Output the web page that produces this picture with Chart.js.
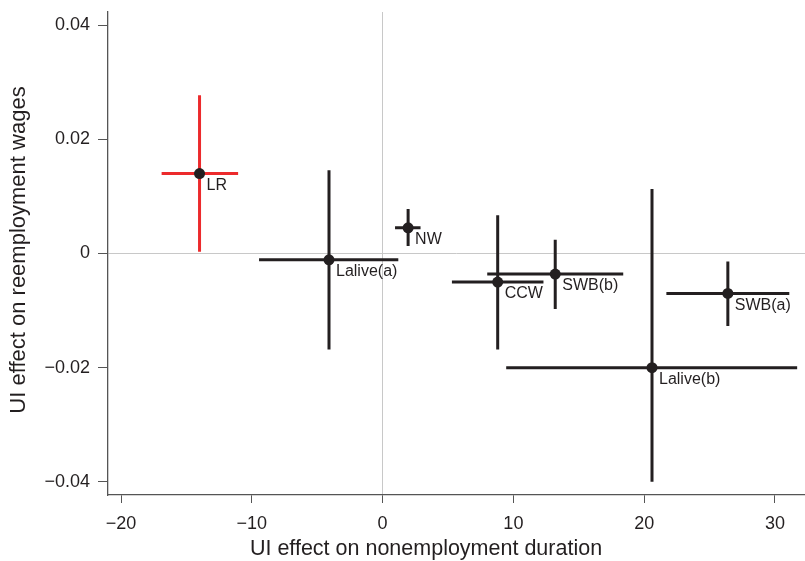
<!DOCTYPE html>
<html>
<head>
<meta charset="utf-8">
<script src="https://cdn.jsdelivr.net/npm/chart.js@4"></script>
<style>
  html, body { margin: 0; padding: 0; background: #fff; overflow: hidden; }
  #wrap { width: 805px; height: 561px; }
  canvas { display: block; }
</style>
</head>
<body>
<div id="wrap"><canvas id="chart" width="805" height="561"></canvas></div>
<script>
// study estimates
const studies    = ['LR', 'Lalive(a)', 'NW', 'CCW', 'SWB(b)', 'SWB(a)', 'Lalive(b)'];
const durEffect  = [-14.0, -4.1, 1.95, 8.8, 13.2, 26.4, 20.6];
const durLow     = [-16.9, -9.45, 0.95, 5.3, 8.0, 21.7, 9.45];
const durHigh    = [-11.05, 1.2, 2.9, 12.3, 18.4, 31.1, 31.7];
const wageEffect = [0.0140, -0.0011, 0.0045, -0.0050, -0.0036, -0.0070, -0.0200];
const wageLow    = [0.0003, -0.0168, 0.0013, -0.0168, -0.0097, -0.0127, -0.0400];
const wageHigh   = [0.0277, 0.0146, 0.0078, 0.0067, 0.0024, -0.0014, 0.0113];
const barColors  = ['#ec2a2c', '#231f20', '#231f20', '#231f20', '#231f20', '#231f20', '#231f20'];

const xTitle = 'UI effect on nonemployment duration';
const yTitle = 'UI effect on reemployment wages';

const FONT = '"Liberation Sans", Arial, Helvetica, sans-serif';
const INK  = '#231f20';

const minus = v => (v < 0 ? '\u2212' : '');

// error bars, labels and axis titles
const errorBars = {
  id: 'errorBars',
  beforeDatasetsDraw(chart) {
    const { ctx, scales: { x, y } } = chart;
    ctx.save();
    ctx.lineWidth = 3;
    ctx.lineCap = 'butt';
    studies.forEach((s, i) => {
      const px = x.getPixelForValue(durEffect[i]);
      const py = y.getPixelForValue(wageEffect[i]);
      ctx.strokeStyle = barColors[i];
      ctx.beginPath();
      ctx.moveTo(x.getPixelForValue(durLow[i]), py);
      ctx.lineTo(x.getPixelForValue(durHigh[i]), py);
      ctx.moveTo(px, y.getPixelForValue(wageHigh[i]));
      ctx.lineTo(px, y.getPixelForValue(wageLow[i]));
      ctx.stroke();
    });
    ctx.restore();
  },
  afterDatasetsDraw(chart) {
    const { ctx, scales: { x, y } } = chart;
    ctx.save();
    ctx.fillStyle = INK;
    ctx.font = '16px ' + FONT;
    ctx.textAlign = 'left';
    ctx.textBaseline = 'top';
    studies.forEach((s, i) => {
      ctx.fillText(s, x.getPixelForValue(durEffect[i]) + 7, y.getPixelForValue(wageEffect[i]) + 4);
    });
    ctx.restore();
  },
  afterDraw(chart) {
    const { ctx } = chart;
    ctx.save();
    ctx.fillStyle = INK;
    ctx.textAlign = 'center';
    ctx.textBaseline = 'middle';
    ctx.font = '21.5px ' + FONT;
    ctx.fillText(xTitle, 426, 549);
    ctx.font = '22px ' + FONT;
    ctx.translate(19, 250);
    ctx.rotate(-Math.PI / 2);
    ctx.fillText(yTitle, 0, 0);
    ctx.restore();
  }
};

new Chart(document.getElementById('chart'), {
  type: 'scatter',
  data: {
    datasets: [{
      data: durEffect.map((d, i) => ({ x: d, y: wageEffect[i] })),
      backgroundColor: INK,
      borderColor: INK,
      pointRadius: 5.5,
      pointHoverRadius: 5.5,
      borderWidth: 0
    }]
  },
  options: {
    responsive: false,
    animation: false,
    layout: { autoPadding: false, padding: { top: 12, left: 0, right: 0, bottom: 0 } },
    plugins: { legend: { display: false }, tooltip: { enabled: false } },
    scales: {
      x: {
        type: 'linear', min: -21, max: 32.3,
        afterFit: s => { s.height = 66; s.paddingLeft = 0; s.paddingRight = 0; },
        border: { color: '#555', width: 1.3 },
        grid: {
          color: c => Math.abs(c.tick.value) < 1e-9 ? '#c8c8c8' : 'rgba(0,0,0,0)',
          tickColor: '#555', tickLength: 8, lineWidth: 1
        },
        ticks: {
          stepSize: 10, includeBounds: false, color: INK, padding: 10,
          font: { family: FONT, size: 18 },
          callback: v => minus(v) + Math.abs(Math.round(v))
        }
      },
      y: {
        type: 'linear', min: -0.0423, max: 0.0423,
        afterFit: s => { s.width = 108; s.paddingTop = 0; s.paddingBottom = 0; },
        border: { color: '#555', width: 1.3 },
        grid: {
          color: c => Math.abs(c.tick.value) < 1e-9 ? '#c8c8c8' : 'rgba(0,0,0,0)',
          tickColor: '#555', tickLength: 10, lineWidth: 1
        },
        ticks: {
          stepSize: 0.02, includeBounds: false, color: INK, padding: 8,
          font: { family: FONT, size: 18 },
          callback: v => Math.abs(v) < 1e-9 ? '0' : minus(v) + Math.abs(v).toFixed(2)
        }
      }
    }
  },
  plugins: [errorBars]
});
</script>
</body>
</html>
